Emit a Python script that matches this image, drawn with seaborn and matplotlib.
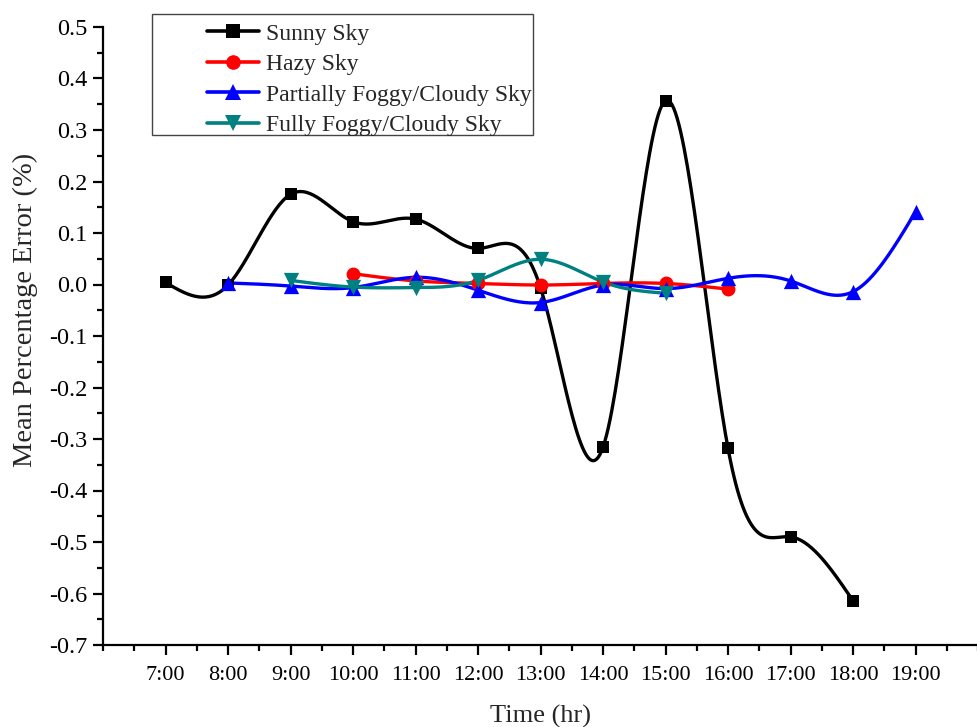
import numpy as np
import pandas as pd
import matplotlib
matplotlib.use("Agg")
import matplotlib.pyplot as plt
from matplotlib.lines import Line2D
from matplotlib.patches import Rectangle
from matplotlib.ticker import MultipleLocator, FixedLocator, FormatStrFormatter
import seaborn as sns

# ---- data -------------------------------------------------------------
sunny_hours = [7, 8, 9, 10, 11, 12, 13, 14, 15, 16, 17, 18]
sunny_mpe = [0.004, -0.001, 0.175, 0.122, 0.127, 0.070, -0.006, -0.316,
             0.357, -0.318, -0.490, -0.614]

hazy_hours = [10, 11, 12, 13, 14, 15, 16]
hazy_mpe = [0.021, 0.007, 0.002, -0.001, 0.002, 0.002, -0.009]

partial_hours = [8, 9, 10, 11, 12, 13, 14, 15, 16, 17, 18, 19]
partial_mpe = [0.003, -0.003, -0.006, 0.014, -0.011, -0.035, -0.001,
               -0.008, 0.012, 0.007, -0.014, 0.141]

full_hours = [9, 10, 11, 12, 13, 14, 15]
full_mpe = [0.008, -0.005, -0.006, 0.008, 0.049, 0.005, -0.017]

series_names = ["Sunny Sky", "Hazy Sky", "Partially Foggy/Cloudy Sky",
                "Fully Foggy/Cloudy Sky"]
tick_hours = list(range(7, 20))
tick_labels = [f"{h}:00" for h in tick_hours]


def natural_spline(x, y, n=400):
    """Natural cubic spline through (x, y), evaluated on a dense grid."""
    x = np.asarray(x, float)
    y = np.asarray(y, float)
    k = len(x)
    h = np.diff(x)
    A = np.zeros((k, k))
    b = np.zeros(k)
    A[0, 0] = A[-1, -1] = 1.0
    for i in range(1, k - 1):
        A[i, i - 1] = h[i - 1]
        A[i, i] = 2 * (h[i - 1] + h[i])
        A[i, i + 1] = h[i]
        b[i] = 6 * ((y[i + 1] - y[i]) / h[i] - (y[i] - y[i - 1]) / h[i - 1])
    M = np.linalg.solve(A, b)
    xs = np.linspace(x[0], x[-1], n)
    idx = np.clip(np.searchsorted(x, xs) - 1, 0, k - 2)
    x0, x1 = x[idx], x[idx + 1]
    hi = x1 - x0
    t0, t1 = x1 - xs, xs - x0
    ys = (M[idx] * t0 ** 3 / (6 * hi) + M[idx + 1] * t1 ** 3 / (6 * hi)
          + (y[idx] / hi - M[idx] * hi / 6) * t0
          + (y[idx + 1] / hi - M[idx + 1] * hi / 6) * t1)
    return xs, ys


sns.set_theme(style="ticks")
plt.rcParams["font.family"] = ["Liberation Serif", "DejaVu Serif"]

W, H = 977, 727
fig = plt.figure(figsize=(W / 100, H / 100), dpi=100)
ax = fig.add_axes([103 / W, (H - 645) / H, 875 / W, 618 / H])

series = [
    (sunny_hours, sunny_mpe, "black", "s", 9),
    (hazy_hours, hazy_mpe, "red", "o", 10),
    (partial_hours, partial_mpe, "blue", "^", 11),
    (full_hours, full_mpe, "teal", "v", 11),
]

handles = []
for (hx, hy, color, marker, ms), name in zip(series, series_names):
    xs, ys = natural_spline(hx, hy)
    curve = pd.DataFrame({"hour": xs, "mpe": ys})
    sns.lineplot(data=curve, x="hour", y="mpe", color=color, lw=2.4,
                 sort=False, estimator=None, ax=ax, zorder=3)
    pts = pd.DataFrame({"hour": hx, "mpe": hy})
    sns.scatterplot(data=pts, x="hour", y="mpe", color=color, marker=marker,
                    s=ms ** 2, linewidth=0, ax=ax, zorder=4)
    handles.append(Line2D([], [], color=color, lw=2.6, marker=marker,
                          markersize=ms * 1.05, markeredgewidth=0))

# axes, ticks and spines
ax.set_xlim(6, 20)
ax.set_ylim(-0.7, 0.5)
ax.xaxis.set_major_locator(FixedLocator(tick_hours))
ax.set_xticks(tick_hours)
ax.set_xticklabels(tick_labels)
ax.xaxis.set_minor_locator(FixedLocator(np.arange(6, 20.01, 0.5)))
ax.yaxis.set_major_locator(MultipleLocator(0.1))
ax.yaxis.set_minor_locator(MultipleLocator(0.05))
ax.yaxis.set_major_formatter(FormatStrFormatter("%.1f"))
sns.despine(ax=ax)
for sp in ("left", "bottom"):
    ax.spines[sp].set_linewidth(1.6)
    ax.spines[sp].set_color("black")
ax.tick_params(which="major", direction="out", length=7, width=1.6,
               colors="black", pad=4)
ax.tick_params(which="minor", direction="out", length=4, width=1.6,
               colors="black")
ax.tick_params(axis="y", which="major", labelsize=17.5)
ax.tick_params(axis="x", which="major", labelsize=16, pad=8)
ax.set_ylabel("Mean Percentage Error (%)", fontsize=20.5)
ax.yaxis.set_label_coords(-0.074, 0.542)
ax.set_xlabel("")
fig.text(541 / W, 1 - 716 / H, "Time (hr)", fontsize=19, ha="center",
         va="center")
ax.grid(False)

# legend: framed box with entries inset from its left edge
fig.patches.append(Rectangle((152 / W, 1 - 135 / H), (533 - 152) / W,
                             (135 - 14) / H, transform=fig.transFigure,
                             fill=False, edgecolor="#444444", lw=1.0,
                             zorder=5))
fig.legend(handles, series_names, loc="upper left",
           bbox_to_anchor=(207 / W, 1 - 23 / H), frameon=False,
           fontsize=17, handlelength=2.2, handletextpad=0.3,
           labelspacing=0.38, borderpad=0, borderaxespad=0)

fig.savefig("out.png", dpi=100)
